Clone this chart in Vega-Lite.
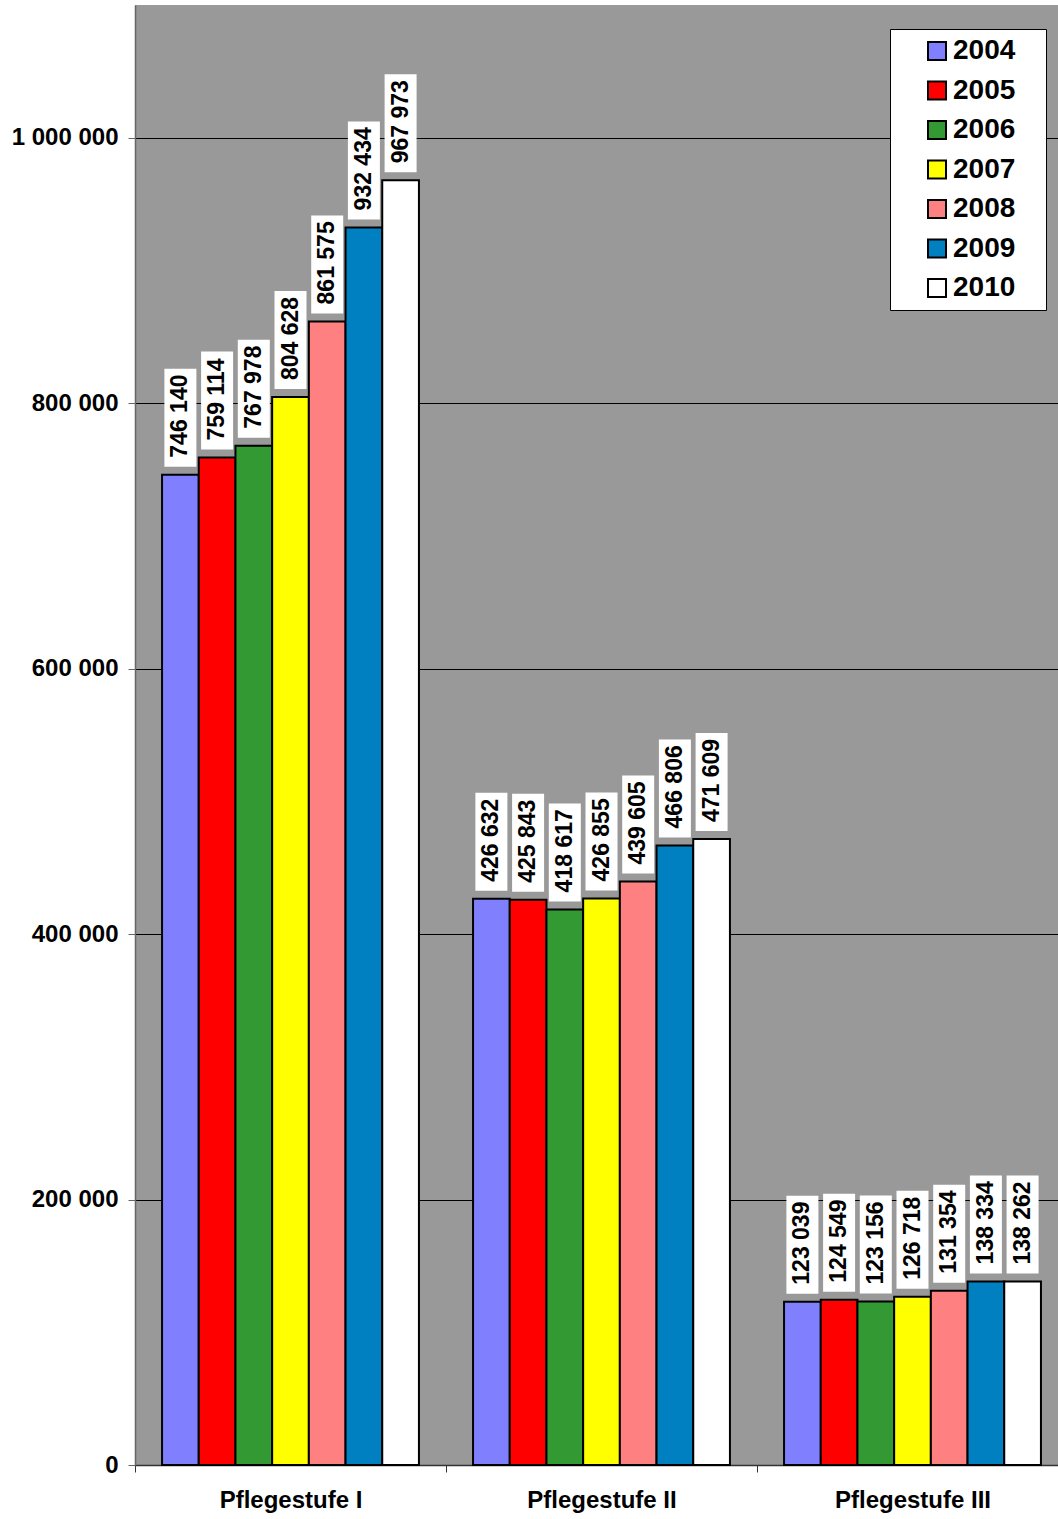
{
  "$schema": "https://vega.github.io/schema/vega-lite/v6.json",
  "width": 923,
  "height": 1460,
  "autosize": {"type": "none"},
  "padding": {"left": 135, "top": 5, "right": 0, "bottom": 54},
  "background": "white",
  "config": {
    "locale": {"number": {"decimal": ",", "thousands": " ", "grouping": [3], "currency": ["", " €"]}},
    "view": {"fill": "#999999", "stroke": null},
    "font": "Liberation Sans"
  },
  "data": {
    "values": [
      {"stufe": "Pflegestufe I", "year": "2004", "value": 746140},
      {"stufe": "Pflegestufe I", "year": "2005", "value": 759114},
      {"stufe": "Pflegestufe I", "year": "2006", "value": 767978},
      {"stufe": "Pflegestufe I", "year": "2007", "value": 804628},
      {"stufe": "Pflegestufe I", "year": "2008", "value": 861575},
      {"stufe": "Pflegestufe I", "year": "2009", "value": 932434},
      {"stufe": "Pflegestufe I", "year": "2010", "value": 967973},
      {"stufe": "Pflegestufe II", "year": "2004", "value": 426632},
      {"stufe": "Pflegestufe II", "year": "2005", "value": 425843},
      {"stufe": "Pflegestufe II", "year": "2006", "value": 418617},
      {"stufe": "Pflegestufe II", "year": "2007", "value": 426855},
      {"stufe": "Pflegestufe II", "year": "2008", "value": 439605},
      {"stufe": "Pflegestufe II", "year": "2009", "value": 466806},
      {"stufe": "Pflegestufe II", "year": "2010", "value": 471609},
      {"stufe": "Pflegestufe III", "year": "2004", "value": 123039},
      {"stufe": "Pflegestufe III", "year": "2005", "value": 124549},
      {"stufe": "Pflegestufe III", "year": "2006", "value": 123156},
      {"stufe": "Pflegestufe III", "year": "2007", "value": 126718},
      {"stufe": "Pflegestufe III", "year": "2008", "value": 131354},
      {"stufe": "Pflegestufe III", "year": "2009", "value": 138334},
      {"stufe": "Pflegestufe III", "year": "2010", "value": 138262}
    ]
  },
  "encoding": {
    "x": {
      "field": "stufe", "type": "nominal", "sort": null,
      "scale": {"range": [0, 933], "paddingInner": 0.174, "paddingOuter": 0.087},
      "axis": {
        "title": null, "labelAngle": 0, "tickOffset": -155.5, "labelOffset": 155.5,
        "domainColor": "#333333", "tickColor": "#333333", "tickSize": 7, "domainWidth": 1.5,
        "labelFont": "Liberation Sans", "labelFontSize": 24, "labelFontWeight": "bold",
        "labelColor": "black", "labelPadding": 16, "grid": false
      }
    },
    "xOffset": {"field": "year", "type": "nominal", "sort": null, "scale": {"paddingInner": 0, "paddingOuter": 0}},
    "y": {
      "field": "value", "type": "quantitative",
      "scale": {"domain": [0, 1100000], "nice": false},
      "axis": {
        "title": null, "values": [0, 200000, 400000, 600000, 800000, 1000000], "format": ",d",
        "grid": true, "gridColor": "black", "gridWidth": 1, "gridOpacity": 1,
        "domainColor": "#666666", "tickColor": "#666666", "tickSize": 7, "domainWidth": 1.5,
        "labelFont": "Liberation Sans", "labelFontSize": 24, "labelFontWeight": "bold",
        "labelColor": "black", "labelPadding": 10
      }
    }
  },
  "layer": [
    {
      "mark": {"type": "bar", "stroke": "black", "strokeWidth": 2, "opacity": 1},
      "encoding": {
        "color": {
          "field": "year", "type": "nominal",
          "scale": {
            "domain": ["2004", "2005", "2006", "2007", "2008", "2009", "2010"],
            "range": ["#8080FF", "#FF0000", "#339933", "#FFFF00", "#FF8080", "#0080C0", "#FFFFFF"]
          },
          "legend": {
            "title": ".", "titleOrient": "right", "titleColor": "white", "titleFontSize": 20, "titlePadding": 17,
            "orient": "none", "legendX": 755, "legendY": 24,
            "fillColor": "white", "strokeColor": "black", "padding": 8,
            "symbolType": "square", "symbolSize": 324, "symbolStrokeColor": "black", "symbolStrokeWidth": 2,
            "symbolOpacity": 1, "symbolOffset": 25,
            "labelFont": "Liberation Sans", "labelFontSize": 28, "labelFontWeight": "bold",
            "labelColor": "black", "labelOffset": 2, "rowPadding": 11.5
          }
        }
      }
    },
    {
      "mark": {"type": "point", "shape": "M-16,-106L16,-106L16,-8L-16,-8Z", "size": 4, "filled": true, "fill": "white", "opacity": 1, "strokeWidth": 0}
    },
    {
      "mark": {"type": "text", "angle": 270, "align": "left", "baseline": "middle", "yOffset": -17, "font": "Liberation Sans", "fontSize": 23, "fontWeight": "bold", "color": "black"},
      "encoding": {"text": {"field": "value", "type": "quantitative", "format": ",d"}}
    }
  ]
}
